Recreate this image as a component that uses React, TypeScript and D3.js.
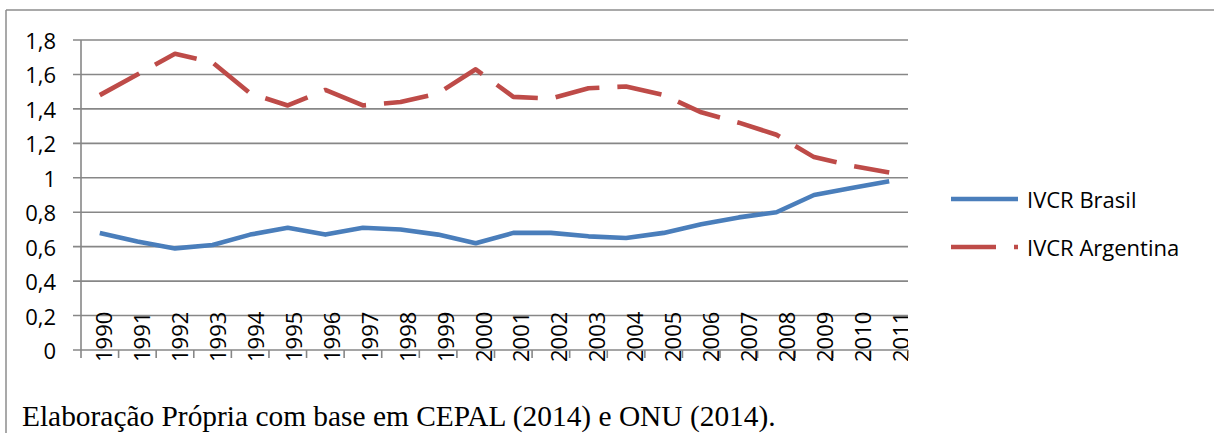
import React from "react";
import * as d3 from "d3";

const YEARS = [
  "1990", "1991", "1992", "1993", "1994", "1995", "1996", "1997", "1998", "1999", "2000",
  "2001", "2002", "2003", "2004", "2005", "2006", "2007", "2008", "2009", "2010", "2011",
];
const BRASIL = [
  0.68, 0.63, 0.59, 0.61, 0.67, 0.71, 0.67, 0.71, 0.7, 0.67, 0.62,
  0.68, 0.68, 0.66, 0.65, 0.68, 0.73, 0.77, 0.8, 0.9, 0.94, 0.98,
];
const ARGENTINA = [
  1.48, 1.6, 1.72, 1.67, 1.49, 1.42, 1.51, 1.42, 1.44, 1.49, 1.63,
  1.47, 1.46, 1.52, 1.53, 1.48, 1.38, 1.32, 1.25, 1.12, 1.07, 1.03,
];
const Y_TICKS = [0, 0.2, 0.4, 0.6, 0.8, 1, 1.2, 1.4, 1.6, 1.8];
const SERIES = [
  { name: "IVCR Brasil", values: BRASIL, color: "#4A7EBB", dash: "" },
  { name: "IVCR Argentina", values: ARGENTINA, color: "#BE4B48", dash: "45 18" },
];

const W = 1214;
const H = 433;
const FONT = "'Open Sans', 'Noto Sans', sans-serif";

const App = () => {
  const left = 81;
  const right = 908;
  const top = 40;
  const bottom = 350;

  const x = d3.scaleBand<string>().domain(YEARS).range([left, right]);
  // labels sit on a slightly wider pitch than the categories (the last one gets cut)
  const xl = d3.scaleBand<string>().domain(YEARS).range([84, 919]);
  const y = d3.scaleLinear().domain([0, 1.8]).range([bottom, top]);
  const cx = (yr: string) => (x(yr) as number) + x.bandwidth() / 2;

  const line = d3
    .line<number>()
    .x((_, i) => cx(YEARS[i]))
    .y((v) => y(v));

  const fmt = (v: number) => String(+v.toFixed(1)).replace(".", ",");

  return (
    <svg
      width={W}
      height={H}
      style={{ position: "absolute", left: 0, top: 0, background: "#fff" }}
    >
      <defs>
        <clipPath id="lblclip">
          <rect x={0} y={0} width={right} height={H} />
        </clipPath>
      </defs>

      {/* outer frame */}
      <line x1={6} y1={10} x2={W} y2={10} stroke="#8c8c8c" strokeWidth={1.5} />
      <line x1={6} y1={10} x2={6} y2={H} stroke="#8c8c8c" strokeWidth={1.5} />

      {/* grid + y labels */}
      {Y_TICKS.map((t) => (
        <g key={t}>
          <line x1={73} x2={right} y1={y(t)} y2={y(t)} stroke="#878787" strokeWidth={1.6} />
          <text
            x={56}
            y={y(t)}
            textAnchor="end"
            dominantBaseline="central"
            fontFamily={FONT}
            fontSize={22}
            fill="#000"
          >
            {fmt(t)}
          </text>
        </g>
      ))}

      {/* y axis */}
      <line x1={left} x2={left} y1={top} y2={bottom + 8} stroke="#878787" strokeWidth={1.6} />

      {/* x ticks */}
      {YEARS.map((yr) => (
        <line
          key={"t" + yr}
          x1={(x(yr) as number) + x.bandwidth()}
          x2={(x(yr) as number) + x.bandwidth()}
          y1={bottom}
          y2={bottom + 8}
          stroke="#878787"
          strokeWidth={1.6}
        />
      ))}

      {/* x labels */}
      <g clipPath="url(#lblclip)">
        {YEARS.map((yr) => (
          <text
            key={"l" + yr}
            transform={`translate(${(xl(yr) as number) + xl.bandwidth() / 2}, 362) rotate(-90)`}
            textAnchor="start"
            dominantBaseline="central"
            fontFamily={FONT}
            fontSize={22}
            fill="#000"
          >
            {yr}
          </text>
        ))}
      </g>

      {/* series */}
      {SERIES.map((s) => (
        <path
          key={s.name}
          d={line(s.values) || ""}
          fill="none"
          stroke={s.color}
          strokeWidth={4.6}
          strokeLinejoin="round"
          strokeDasharray={s.dash || undefined}
        />
      ))}

      {/* legend */}
      {SERIES.map((s, i) => (
        <g key={"lg" + s.name} transform={`translate(951, ${199 + i * 48})`}>
          <line x1={0} x2={67} y1={0} y2={0} stroke={s.color} strokeWidth={4.6} strokeDasharray={s.dash || undefined} />
          <text x={76} y={0} dominantBaseline="central" fontFamily={FONT} fontSize={22} fill="#000">
            {s.name}
          </text>
        </g>
      ))}

      {/* caption */}
      <text x={22} y={426} fontFamily="'Liberation Serif', 'Times New Roman', serif" fontSize={29.4} fill="#000">
        Elaboração Própria com base em CEPAL (2014) e ONU (2014).
      </text>
    </svg>
  );
};

export default App;
